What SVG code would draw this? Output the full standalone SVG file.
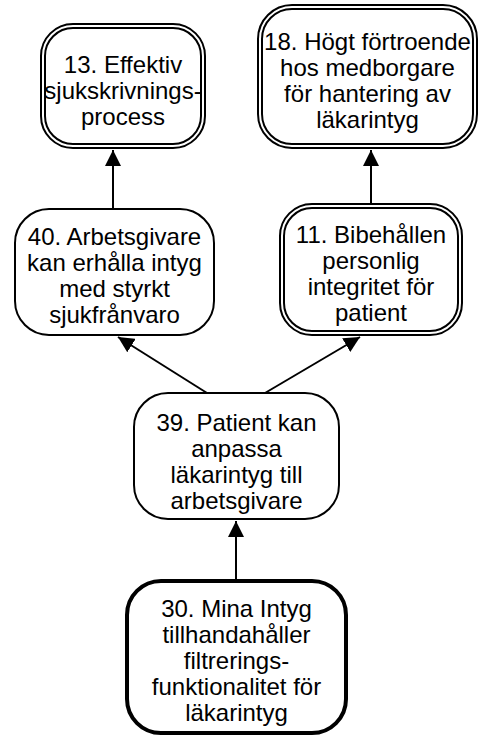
<svg xmlns="http://www.w3.org/2000/svg" width="480" height="738" viewBox="0 0 480 738">
  <style>
    .box { fill: #ffffff; stroke: #000000; stroke-width: 2; }
    .inner { fill: none; stroke: #000000; stroke-width: 2; }
    .thick { fill: #ffffff; stroke: #000000; stroke-width: 4; }
    .lbl { font-family: "Liberation Sans", Arial, sans-serif; font-size: 24px; fill: #000000; text-anchor: middle; }
    .edge { stroke: #000000; stroke-width: 2; fill: none; marker-end: url(#arrow); }
  </style>
  <defs>
    <marker id="arrow" markerUnits="userSpaceOnUse" markerWidth="17" markerHeight="16" refX="16" refY="8" orient="auto">
      <path d="M0,0 L16,8 L0,16 Z" fill="#000000"/>
    </marker>
  </defs>

  <g id="connectors">
    <line class="edge" x1="113" y1="209" x2="113" y2="150"/>
    <line class="edge" x1="371" y1="204" x2="371" y2="150"/>
    <line class="edge" x1="207" y1="393" x2="118" y2="337"/>
    <line class="edge" x1="265" y1="393" x2="360" y2="337"/>
    <line class="edge" x1="236" y1="580" x2="236" y2="521"/>
  </g>

  <g id="n13">
    <rect class="box" x="41" y="24" width="164" height="124" rx="32"/>
    <rect class="inner" x="45" y="28" width="156" height="116" rx="28"/>
    <text class="lbl" x="123" y="73">13. Effektiv</text>
    <text class="lbl" x="123" y="99">sjukskrivnings-</text>
    <text class="lbl" x="123" y="125">process</text>
  </g>

  <g id="n18">
    <rect class="box" x="258" y="5" width="219" height="143" rx="34"/>
    <rect class="inner" x="262" y="9" width="211" height="135" rx="30"/>
    <text class="lbl" x="367.5" y="50">18. Högt förtroende</text>
    <text class="lbl" x="367.5" y="76">hos medborgare</text>
    <text class="lbl" x="367.5" y="102">för hantering av</text>
    <text class="lbl" x="367.5" y="128">läkarintyg</text>
  </g>

  <g id="n40">
    <rect class="box" x="15" y="209" width="199" height="126" rx="34"/>
    <text class="lbl" x="114.5" y="245">40. Arbetsgivare</text>
    <text class="lbl" x="114.5" y="271">kan erhålla intyg</text>
    <text class="lbl" x="114.5" y="297">med styrkt</text>
    <text class="lbl" x="114.5" y="323">sjukfrånvaro</text>
  </g>

  <g id="n11">
    <rect class="box" x="280" y="204" width="182" height="131" rx="32"/>
    <rect class="inner" x="284" y="208" width="174" height="123" rx="28"/>
    <text class="lbl" x="371" y="243">11. Bibehållen</text>
    <text class="lbl" x="371" y="269">personlig</text>
    <text class="lbl" x="371" y="295">integritet för</text>
    <text class="lbl" x="371" y="321">patient</text>
  </g>

  <g id="n39">
    <rect class="box" x="134" y="393" width="205" height="126" rx="34"/>
    <text class="lbl" x="236.5" y="431">39. Patient kan</text>
    <text class="lbl" x="236.5" y="457">anpassa</text>
    <text class="lbl" x="236.5" y="483">läkarintyg till</text>
    <text class="lbl" x="236.5" y="509">arbetsgivare</text>
  </g>

  <g id="n30">
    <rect class="thick" x="127" y="581" width="219" height="152" rx="34"/>
    <text class="lbl" x="236.5" y="617">30. Mina Intyg</text>
    <text class="lbl" x="236.5" y="643">tillhandahåller</text>
    <text class="lbl" x="236.5" y="669">filtrerings-</text>
    <text class="lbl" x="236.5" y="695">funktionalitet för</text>
    <text class="lbl" x="236.5" y="721">läkarintyg</text>
  </g>
</svg>
